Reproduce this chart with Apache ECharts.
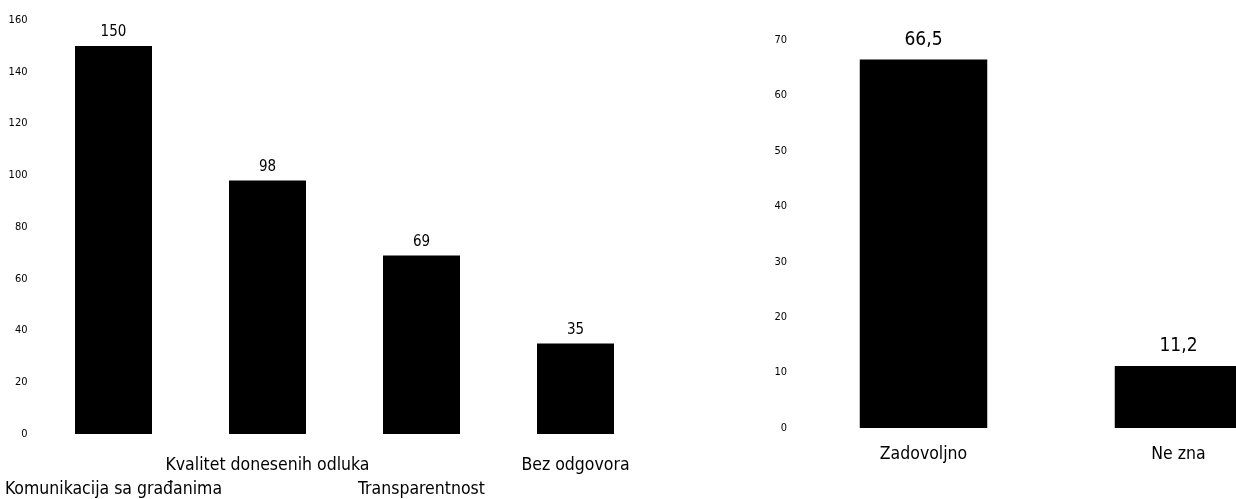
<!DOCTYPE html>
<html>
<head>
<meta charset="utf-8">
<script src="https://cdn.jsdelivr.net/npm/echarts@6/dist/echarts.min.js"></script>
<style>
  html, body { margin: 0; padding: 0; background: #fff; }
  #chart { width: 1236px; height: 499px; }
</style>
</head>
<body>
<div id="chart"></div>
<script>
  // lijevi grafikon
  const leftCategories = ['Komunikacija sa građanima', 'Kvalitet donesenih odluka', 'Transparentnost', 'Bez odgovora'];
  const leftValues = [150, 98, 69, 35];
  const leftMax = 160;
  const leftStep = 20;

  // desni grafikon
  const rightCategories = ['Zadovoljno', 'Ne zna'];
  const rightValues = [66.5, 11.2];
  const rightMax = 70;
  const rightStep = 10;

  const font = "'Liberation Sans Narrow', 'DejaVu Sans Condensed', 'Liberation Sans', sans-serif";
  const comma = (v) => String(v).replace('.', ',');

  const chart = echarts.init(document.getElementById('chart'));

  const yAxisBase = {
    type: 'value',
    min: 0,
    axisLine: { show: false },
    axisTick: { show: false },
    splitLine: { show: false },
    axisLabel: { color: '#000', fontFamily: font, fontSize: 11, margin: 9 },
  };

  const option = {
    animation: false,
    backgroundColor: '#fff',
    grid: [
      { left: 36.5, width: 616, top: 20, bottom: 65, outerBoundsMode: 'none', containLabel: false },
      { left: 796, width: 510, top: 40, bottom: 71, outerBoundsMode: 'none', containLabel: false },
    ],
    xAxis: [
      {
        type: 'category',
        gridIndex: 0,
        data: leftCategories,
        axisLine: { show: false },
        axisTick: { show: false },
        axisLabel: {
          color: '#000',
          fontFamily: font,
          fontSize: 17.5,
          lineHeight: 24,
          margin: 19,
          interval: 0,
          formatter: (v, i) => (i % 2 === 0 ? '\n' + v : v),
        },
      },
      {
        type: 'category',
        gridIndex: 1,
        data: rightCategories,
        axisLine: { show: false },
        axisTick: { show: false },
        axisLabel: { color: '#000', fontFamily: font, fontSize: 17.5, margin: 17, interval: 0 },
      },
    ],
    yAxis: [
      Object.assign({}, yAxisBase, { gridIndex: 0, max: leftMax, interval: leftStep }),
      Object.assign({}, yAxisBase, { gridIndex: 1, max: rightMax, interval: rightStep }),
    ],
    series: [
      {
        type: 'bar',
        xAxisIndex: 0,
        yAxisIndex: 0,
        data: leftValues,
        barWidth: '50%',
        itemStyle: { color: '#000' },
        label: {
          show: true,
          position: 'top',
          distance: 6,
          color: '#000',
          fontFamily: font,
          fontSize: 15,
          formatter: (p) => comma(p.value),
        },
      },
      {
        type: 'bar',
        xAxisIndex: 1,
        yAxisIndex: 1,
        data: rightValues,
        barWidth: '50%',
        itemStyle: { color: '#000' },
        label: {
          show: true,
          position: 'top',
          distance: 10,
          color: '#000',
          fontFamily: font,
          fontSize: 19,
          formatter: (p) => comma(p.value),
        },
      },
    ],
  };

  chart.setOption(option);
  window.addEventListener('resize', chart.resize);
</script>
</body>
</html>
